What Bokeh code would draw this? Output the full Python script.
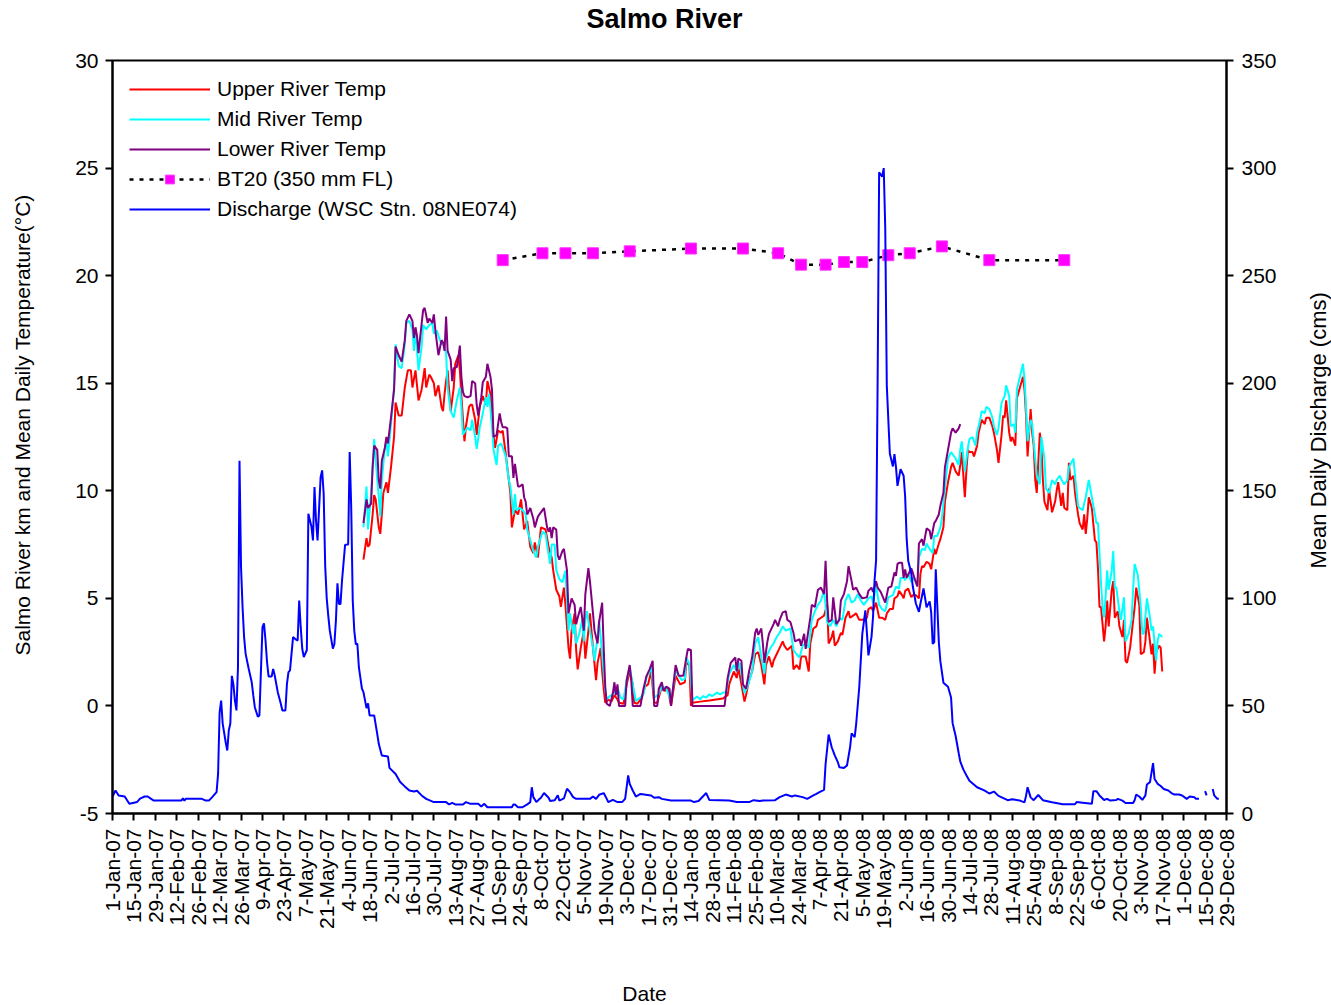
import math
import numpy as np
from bokeh.plotting import figure
from bokeh.layouts import row, column
from bokeh.models import Range1d, LinearAxis, FixedTicker, Legend, LegendItem, Label
from bokeh.embed import file_html
from bokeh.resources import INLINE

FONT = "Liberation Sans"

# x axis: days since 1-Jan-2007, labelled every 14 days
TICK_LABELS = [
    "1-Jan-07", "15-Jan-07", "29-Jan-07", "12-Feb-07", "26-Feb-07", "12-Mar-07",
    "26-Mar-07", "9-Apr-07", "23-Apr-07", "7-May-07", "21-May-07", "4-Jun-07",
    "18-Jun-07", "2-Jul-07", "16-Jul-07", "30-Jul-07", "13-Aug-07", "27-Aug-07",
    "10-Sep-07", "24-Sep-07", "8-Oct-07", "22-Oct-07", "5-Nov-07", "19-Nov-07",
    "3-Dec-07", "17-Dec-07", "31-Dec-07", "14-Jan-08", "28-Jan-08", "11-Feb-08",
    "25-Feb-08", "10-Mar-08", "24-Mar-08", "7-Apr-08", "21-Apr-08", "5-May-08",
    "19-May-08", "2-Jun-08", "16-Jun-08", "30-Jun-08", "14-Jul-08", "28-Jul-08",
    "11-Aug-08", "25-Aug-08", "8-Sep-08", "22-Sep-08", "6-Oct-08", "20-Oct-08",
    "3-Nov-08", "17-Nov-08", "1-Dec-08", "15-Dec-08", "29-Dec-08",
]
TICK_STEP_DAYS = 14

TITLE = "Salmo River"
LEFT_TITLE = "Salmo River km and Mean Daily Temperature(°C)"
RIGHT_TITLE = "Mean Daily Discharge (cms)"
X_TITLE = "Date"

# (day, mean daily temperature degC) - Upper River
UPPER_TEMP = [
    (164, 6.8), (166, 7.8), (167, 7.4), (168, 7.5), (170, 8.9), (171, 9.8), (172, 9.6), (174, 8.3),
    (175, 8.0), (176, 8.9), (177, 9.9), (179, 10.4), (180, 9.9), (182, 11.1), (184, 12.5), (185, 14.1),
    (187, 13.5), (189, 13.5), (191, 14.8), (193, 15.6), (195, 15.6), (196, 14.8), (198, 15.6), (200, 14.2),
    (202, 14.7), (204, 15.7), (205, 14.8), (207, 15.4), (208, 15.3), (210, 15.0), (211, 14.4), (213, 14.9),
    (215, 13.9), (216, 13.7), (217, 14.5), (218, 15.1), (219, 15.6), (221, 13.7), (223, 14.8), (224, 15.9),
    (226, 16.3), (227, 15.6), (228, 14.4), (230, 12.3), (231, 13.0), (233, 13.9), (234, 14.0), (235, 14.0),
    (237, 13.3), (238, 12.6), (240, 13.9), (242, 14.4), (244, 14.0), (245, 15.1), (247, 14.5), (248, 13.1),
    (250, 12.0), (252, 12.8), (254, 12.7), (255, 12.8), (257, 11.7), (259, 10.5), (260, 9.9), (261, 8.3),
    (263, 9.1), (265, 8.9), (267, 9.6), (269, 8.2), (271, 8.6), (273, 7.4), (275, 7.1), (276, 7.6),
    (278, 6.9), (280, 8.3), (283, 8.2), (285, 7.4), (287, 6.9), (288, 6.3), (290, 5.4), (292, 5.1),
    (293, 4.6), (295, 5.5), (296, 4.7), (298, 2.7), (299, 2.2), (300, 3.5), (302, 4.3), (303, 2.6),
    (304, 1.7), (306, 2.7), (308, 3.5), (309, 2.2), (311, 3.5), (312, 4.3), (314, 2.7), (316, 1.2),
    (317, 2.0), (319, 2.7), (320, 1.6), (321, 0.8), (322, 0.15), (324, 0.3), (326, 0.2), (328, 0.5),
    (330, 0.3), (331, 0.15), (334, 0.1), (336, 1.0), (338, 1.6), (340, 1.0), (341, 0.15), (343, 0.1),
    (346, 0.4), (348, 0.9), (350, 1.0), (352, 1.6), (354, 0.15), (356, 0.15), (359, 0.9), (361, 0.7),
    (363, 0.8), (365, 0.0), (368, 1.4), (371, 1.0), (374, 1.1), (375, 2.0), (377, 1.9), (378, 0.0),
    (379, 0.15), (384, 0.2), (390, 0.25), (399, 0.35), (402, 0.5), (403, 1.0), (406, 1.6), (408, 1.3),
    (409, 1.8), (411, 1.0), (413, 0.2), (414, 0.5), (416, 1.2), (418, 1.6), (420, 2.4), (422, 2.5),
    (424, 1.9), (426, 1.0), (427, 1.9), (429, 2.3), (431, 1.8), (432, 2.1), (434, 2.4), (436, 2.7),
    (438, 3.0), (439, 2.8), (441, 2.6), (444, 2.8), (445, 1.7), (447, 1.9), (449, 1.7), (450, 2.3),
    (452, 2.3), (453, 2.3), (455, 1.6), (456, 2.9), (458, 3.6), (460, 3.7), (461, 4.0), (463, 4.1),
    (465, 4.2), (467, 4.7), (468, 2.9), (470, 3.2), (471, 3.5), (472, 2.8), (474, 3.0), (476, 3.4),
    (477, 3.3), (479, 4.1), (481, 4.4), (482, 4.1), (484, 4.2), (486, 4.3), (488, 4.0), (490, 4.0),
    (493, 4.1), (494, 4.5), (496, 4.6), (497, 4.4), (499, 4.8), (501, 4.1), (503, 4.1), (505, 4.0),
    (506, 4.3), (508, 4.5), (510, 4.5), (511, 5.0), (513, 5.1), (514, 5.35), (516, 5.15), (517, 5.0),
    (518, 5.35), (520, 5.45), (522, 5.05), (523, 5.15), (525, 5.15), (527, 5.0), (528, 6.15), (529, 6.5),
    (530, 6.45), (532, 6.7), (534, 6.6), (535, 6.35), (537, 7.3), (538, 7.05), (540, 7.55), (541, 7.75),
    (543, 8.3), (544, 9.5), (546, 10.4), (548, 11.1), (549, 11.3), (551, 10.9), (553, 10.7), (554, 11.2),
    (555, 11.8), (557, 9.7), (558, 10.9), (559, 11.9), (560, 11.8), (562, 11.8), (563, 11.6), (565, 12.1),
    (566, 12.7), (568, 13.3), (570, 13.1), (571, 13.4), (573, 13.4), (575, 13.0), (576, 12.7), (578, 11.9),
    (579, 11.3), (581, 12.6), (582, 13.5), (583, 13.4), (584, 14.2), (586, 12.7), (587, 12.3), (588, 12.5),
    (590, 12.1), (591, 14.3), (593, 14.8), (595, 15.3), (596, 14.7), (597, 13.5), (598, 11.6), (600, 13.8),
    (601, 12.7), (602, 12.1), (603, 10.5), (604, 9.9), (606, 12.7), (607, 12.1), (608, 10.5), (609, 9.5),
    (611, 9.1), (612, 10.1), (614, 9.0), (616, 9.5), (617, 10.0), (618, 10.4), (620, 9.3), (621, 9.9),
    (622, 9.2), (624, 9.1), (625, 11.3), (626, 10.5), (628, 10.7), (629, 9.9), (631, 8.9), (632, 8.5),
    (634, 8.2), (635, 8.9), (636, 8.0), (637, 8.7), (638, 9.7), (640, 9.2), (642, 7.7), (643, 7.6),
    (644, 6.4), (645, 4.6), (646, 4.6), (648, 3.0), (649, 3.7), (650, 4.9), (651, 3.7), (653, 5.4),
    (654, 5.8), (655, 4.1), (657, 4.4), (658, 3.7), (660, 3.2), (661, 4.0), (662, 2.1), (663, 2.0),
    (665, 2.7), (666, 3.35), (668, 4.6), (669, 5.5), (671, 4.7), (672, 2.4), (674, 2.5), (675, 3.0),
    (676, 4.1), (678, 3.0), (679, 2.4), (680, 2.9), (681, 1.5), (682, 2.5), (684, 2.8), (685, 2.7),
    (686, 1.6),
]

# (day, mean daily temperature degC) - Mid River
MID_TEMP = [
    (164, 8.3), (166, 10.2), (167, 8.2), (169, 9.9), (171, 12.4), (172, 11.4), (174, 9.7), (175, 8.8),
    (176, 10.5), (178, 12.0), (179, 12.3), (180, 11.6), (182, 13.1), (184, 14.8), (185, 16.8), (187, 15.8),
    (189, 15.7), (191, 16.8), (192, 17.8), (194, 17.9), (196, 17.5), (197, 16.5), (198, 17.5), (199, 16.5),
    (200, 15.6), (202, 16.7), (203, 17.7), (205, 17.5), (207, 17.7), (209, 17.8), (210, 17.3), (212, 17.45),
    (213, 17.2), (215, 16.8), (216, 16.9), (218, 16.4), (219, 14.8), (221, 13.7), (223, 13.4), (225, 14.2),
    (227, 14.8), (228, 13.9), (229, 12.6), (232, 12.95), (234, 12.8), (235, 13.3), (237, 12.5), (238, 11.95),
    (240, 12.95), (242, 13.6), (244, 14.35), (245, 13.9), (246, 14.5), (248, 13.1), (249, 11.9), (251, 11.2),
    (252, 12.1), (254, 12.2), (255, 12.0), (257, 11.6), (259, 10.5), (260, 10.2), (262, 8.9), (263, 9.85),
    (264, 9.1), (266, 9.2), (268, 9.1), (270, 8.9), (271, 8.2), (273, 7.7), (275, 7.2), (277, 6.9),
    (278, 7.4), (281, 8.1), (283, 8.0), (284, 7.5), (286, 6.6), (287, 7.5), (289, 7.5), (290, 6.3),
    (292, 5.9), (294, 5.75), (296, 6.3), (298, 3.5), (299, 4.3), (301, 3.35), (302, 3.8), (303, 2.9),
    (305, 3.35), (307, 4.0), (308, 3.0), (309, 4.0), (310, 4.4), (312, 3.5), (314, 2.7), (315, 2.1),
    (317, 3.2), (318, 4.0), (320, 2.4), (322, 0.7), (323, 0.3), (325, 0.46), (327, 0.54), (330, 0.87),
    (332, 0.39), (334, 0.31), (336, 1.2), (338, 1.8), (340, 1.0), (342, 0.23), (345, 0.39), (347, 0.54),
    (349, 1.33), (352, 1.8), (354, 0.39), (357, 0.54), (359, 0.93), (362, 0.78), (365, 0.23), (368, 1.64),
    (372, 1.2), (374, 1.26), (375, 2.25), (377, 1.95), (379, 0.27), (382, 0.44), (384, 0.31), (386, 0.46),
    (388, 0.39), (390, 0.54), (392, 0.46), (395, 0.62), (397, 0.54), (399, 0.62), (401, 0.62), (403, 1.5),
    (406, 1.9), (408, 1.6), (410, 2.0), (412, 1.0), (413, 0.6), (415, 0.9), (418, 1.6), (420, 2.9),
    (422, 3.2), (424, 2.25), (426, 1.5), (427, 2.25), (430, 2.7), (432, 2.9), (434, 3.2), (436, 3.4),
    (438, 3.7), (440, 3.5), (443, 3.6), (445, 2.6), (447, 2.4), (449, 2.25), (451, 2.8), (453, 2.9),
    (455, 2.7), (457, 4.0), (459, 4.4), (461, 4.7), (463, 4.9), (465, 5.4), (467, 3.9), (469, 3.7),
    (471, 4.0), (473, 3.7), (475, 4.1), (477, 4.0), (479, 4.9), (481, 5.2), (483, 4.8), (485, 4.9),
    (487, 5.2), (489, 4.9), (491, 4.7), (494, 5.0), (496, 5.1), (497, 4.8), (499, 5.6), (501, 4.7),
    (503, 4.5), (505, 4.4), (507, 5.05), (510, 5.15), (512, 5.55), (514, 5.45), (515, 5.95), (517, 5.95),
    (518, 5.85), (520, 6.15), (522, 5.75), (524, 5.95), (526, 5.55), (527, 6.9), (529, 7.3), (531, 7.25),
    (532, 7.55), (534, 7.3), (536, 7.1), (537, 7.9), (539, 7.9), (541, 8.3), (542, 8.7), (544, 10.1),
    (546, 11.5), (548, 11.8), (549, 11.7), (551, 11.5), (553, 11.2), (554, 11.9), (555, 12.3), (557, 10.9),
    (559, 12.0), (560, 12.4), (562, 12.5), (564, 12.1), (565, 12.7), (567, 13.3), (568, 13.7), (570, 13.6),
    (571, 13.9), (573, 13.8), (575, 13.4), (576, 13.0), (578, 12.6), (579, 12.9), (581, 14.1), (583, 14.4),
    (584, 14.9), (586, 14.4), (587, 13.0), (589, 13.1), (590, 12.7), (591, 14.7), (593, 15.3), (595, 15.9),
    (596, 15.2), (597, 13.9), (598, 12.3), (600, 13.3), (601, 13.1), (602, 12.3), (604, 10.7), (606, 10.3),
    (607, 12.5), (609, 11.5), (610, 10.1), (612, 9.9), (614, 10.5), (616, 10.3), (617, 10.5), (619, 10.7),
    (621, 10.4), (622, 10.3), (624, 10.5), (625, 11.1), (628, 11.5), (629, 10.7), (631, 9.3), (632, 9.2),
    (634, 9.1), (636, 9.7), (638, 10.5), (640, 9.7), (642, 8.9), (643, 8.5), (644, 8.5), (645, 7.1),
    (646, 5.7), (647, 4.6), (648, 4.1), (649, 5.05), (650, 6.3), (651, 5.4), (653, 6.3), (654, 7.2),
    (655, 5.5), (656, 5.5), (658, 4.4), (659, 4.0), (661, 5.05), (662, 3.0), (664, 3.35), (666, 4.0),
    (667, 5.5), (668, 6.6), (670, 6.1), (672, 4.6), (673, 3.35), (674, 3.35), (676, 5.0), (678, 4.1),
    (679, 3.5), (680, 3.7), (682, 2.1), (683, 3.0), (684, 3.35), (686, 3.2),
]

# (day, mean daily temperature degC) - Lower River
LOWER_TEMP = [
    (164, 8.5), (166, 9.6), (167, 9.2), (169, 9.4), (170, 11.1), (171, 12.1), (173, 11.9), (174, 10.5),
    (175, 10.1), (176, 11.4), (178, 12.0), (179, 12.5), (180, 12.2), (182, 13.4), (184, 14.7), (185, 16.7),
    (187, 16.3), (189, 16.0), (191, 17.0), (192, 17.9), (194, 18.2), (196, 17.9), (197, 17.1), (198, 17.6),
    (199, 17.2), (200, 16.4), (201, 17.1), (203, 18.4), (204, 18.5), (206, 17.8), (207, 18.0), (209, 17.8),
    (210, 18.2), (211, 17.45), (213, 16.3), (215, 17.0), (216, 16.9), (217, 16.5), (218, 18.1), (219, 16.5),
    (221, 16.1), (222, 15.1), (223, 15.7), (225, 15.75), (226, 16.2), (227, 16.75), (228, 15.3), (229, 14.6),
    (230, 14.4), (232, 14.35), (234, 14.4), (235, 15.1), (237, 15.0), (238, 14.0), (239, 13.5), (241, 14.35),
    (242, 15.05), (244, 15.3), (245, 15.9), (247, 15.3), (248, 14.7), (249, 12.5), (251, 12.6), (253, 13.6),
    (254, 13.2), (255, 12.95), (257, 12.95), (258, 12.9), (259, 11.6), (261, 11.6), (262, 10.6), (263, 11.25),
    (265, 10.2), (266, 10.2), (268, 10.3), (269, 9.7), (270, 9.5), (271, 8.9), (273, 9.2), (275, 8.7),
    (276, 8.3), (278, 8.8), (279, 8.9), (281, 9.1), (282, 9.2), (284, 8.3), (285, 8.1), (286, 8.3),
    (287, 7.8), (288, 8.3), (290, 8.2), (291, 7.0), (292, 6.8), (294, 7.2), (295, 7.3), (297, 6.3),
    (298, 4.3), (300, 5.0), (302, 4.7), (303, 3.8), (304, 4.1), (306, 4.6), (308, 3.5), (309, 5.2),
    (311, 6.4), (312, 5.8), (314, 4.3), (315, 3.5), (317, 2.9), (318, 3.9), (320, 4.8), (321, 2.7),
    (322, 0.9), (323, 0.1), (325, 0.0), (327, 0.6), (328, 1.1), (329, 0.5), (330, 1.0), (331, 0.0),
    (335, 0.0), (336, 1.2), (338, 1.9), (339, 1.2), (340, 0.0), (345, 0.0), (347, 0.8), (349, 1.4),
    (351, 1.7), (353, 2.1), (354, 0.0), (356, 0.0), (357, 0.8), (359, 1.1), (360, 0.7), (362, 0.9),
    (364, 0.8), (365, 0.0), (368, 1.9), (370, 1.4), (373, 1.4), (375, 2.25), (376, 2.65), (378, 2.6),
    (379, 0.0), (400, 0.0), (402, 1.3), (404, 2.0), (407, 2.25), (408, 1.6), (409, 2.2), (411, 2.1),
    (412, 1.0), (414, 0.8), (416, 1.6), (418, 2.25), (420, 3.4), (421, 3.6), (422, 3.3), (424, 3.6),
    (425, 2.9), (426, 2.0), (428, 3.0), (429, 3.35), (432, 3.8), (433, 4.0), (435, 3.7), (436, 4.0),
    (438, 4.35), (440, 4.4), (441, 4.0), (443, 3.9), (445, 3.4), (446, 3.0), (449, 3.1), (450, 2.8),
    (452, 3.35), (453, 2.65), (456, 4.1), (457, 4.7), (459, 4.6), (461, 5.4), (463, 5.5), (465, 5.2),
    (466, 6.75), (467, 4.9), (468, 3.9), (470, 4.0), (471, 5.05), (473, 3.8), (475, 4.0), (476, 4.9),
    (478, 5.2), (480, 5.8), (481, 6.5), (483, 5.8), (484, 5.4), (486, 5.5), (488, 5.2), (490, 5.0),
    (493, 5.05), (494, 5.35), (496, 5.5), (497, 5.3), (499, 5.8), (500, 5.5), (502, 5.3), (505, 4.8),
    (507, 5.5), (509, 5.55), (511, 6.2), (512, 6.05), (513, 6.6), (514, 6.65), (516, 6.65), (517, 5.95),
    (518, 6.35), (519, 5.95), (522, 6.4), (523, 6.2), (524, 5.95), (526, 5.55), (527, 7.55), (529, 7.75),
    (530, 7.45), (532, 8.25), (534, 8.15), (535, 7.75), (537, 8.5), (538, 8.6), (540, 8.9), (541, 9.3),
    (543, 9.9), (544, 11.1), (546, 11.9), (548, 12.7), (549, 12.9), (551, 12.7), (553, 12.9), (554, 13.1),
]

# BT20 (350 mm FL) river km positions on the temperature axis
BT20_DAY = [255, 281, 296, 314, 338, 378, 412, 435, 450, 466, 478, 490, 507, 521, 542, 573, 622]
BT20_KM = [20.72, 21.04, 21.04, 21.04, 21.13, 21.26, 21.26, 21.04, 20.51, 20.51, 20.63, 20.63,
           20.95, 21.04, 21.36, 20.72, 20.72]

# (day, mean daily discharge cms) - WSC Stn. 08NE074; None = missing record
DISCHARGE = [
    (0, 7.9), (2, 10.7), (4, 8.4), (8, 7.9), (11, 4.5), (14, 5.0), (16, 5.3), (18, 6.9), (21, 7.9),
    (23, 7.9), (25, 6.9), (27, 6.0), (35, 6.0), (45, 6.0), (46, 7.0), (47, 6.0), (48, 6.9), (58, 6.9),
    (61, 6.0), (63, 6.0), (65, 7.5), (68, 9.9), (69, 18.4), (70, 47.0), (71, 52.5), (72, 41.8), (74, 33.0),
    (75, 29.3), (76, 38.6), (77, 41.8), (78, 64.0), (79, 60.0), (80, 52.5), (81, 47.9), (82, 68.0),
    (83, 164.0), (84, 114.5), (85, 95.9), (86, 82.0), (87, 74.2), (89, 67.3), (91, 61.0), (92, 54.9),
    (93, 49.4), (95, 45.0), (96, 45.6), (98, 86.6), (99, 88.4), (100, 80.4), (101, 70.3), (102, 63.7),
    (104, 63.7), (105, 67.2), (106, 64.2), (108, 56.4), (110, 51.0), (111, 47.9), (113, 47.9), (114, 60.3),
    (115, 65.7), (116, 66.5), (118, 82.0), (120, 80.8), (121, 80.4), (122, 99.0), (123, 86.6), (124, 76.6),
    (125, 72.7), (127, 76.0), (128, 139.3), (130, 133.4), (131, 126.9), (132, 151.7), (133, 136.2),
    (134, 126.9), (136, 156.3), (137, 159.5), (138, 148.6), (139, 115.0), (140, 100.0), (141, 92.0),
    (142, 85.0), (144, 76.6), (145, 78.8), (146, 89.7), (147, 107.0), (148, 97.4), (149, 97.4),
    (150, 108.3), (152, 124.9), (154, 125.0), (155, 168.0), (156, 142.4), (157, 99.0), (158, 85.0),
    (159, 78.6), (160, 79.0), (161, 68.0), (163, 58.0), (164, 56.4), (166, 49.0), (167, 51.2), (168, 45.6),
    (171, 45.6), (173, 37.0), (174, 32.4), (176, 27.0), (180, 26.5), (181, 21.2), (185, 18.4), (188, 14.6),
    (191, 12.6), (194, 10.7), (197, 10.2), (199, 10.6), (202, 8.4), (205, 6.8), (210, 5.3), (218, 5.3),
    (220, 4.2), (222, 4.9), (224, 4.2), (229, 4.2), (231, 5.3), (234, 4.5), (239, 4.5), (241, 3.3),
    (243, 4.5), (245, 2.9), (261, 2.9), (262, 4.2), (263, 4.2), (265, 2.9), (268, 2.9), (271, 4.2),
    (273, 5.3), (274, 12.2), (275, 7.6), (277, 5.3), (279, 6.7), (280, 7.3), (282, 9.5), (285, 7.3),
    (286, 5.8), (289, 6.2), (291, 8.5), (292, 6.0), (295, 7.0), (297, 11.5), (299, 9.9), (301, 7.6),
    (303, 6.8), (312, 6.8), (314, 7.9), (316, 6.8), (318, 8.7), (321, 9.5), (323, 6.8), (324, 5.3),
    (327, 6.3), (330, 5.3), (333, 5.3), (335, 6.8), (337, 17.7), (338, 13.8), (340, 10.7), (342, 7.9),
    (345, 9.1), (352, 8.4), (354, 7.3), (357, 7.6), (359, 6.8), (365, 6.0), (378, 6.0), (380, 5.3),
    (383, 5.8), (385, 7.3), (388, 9.5), (390, 6.3), (403, 6.0), (408, 5.3), (416, 5.3), (419, 6.2),
    (423, 5.8), (425, 6.0), (433, 6.2), (436, 7.6), (440, 8.8), (444, 7.9), (446, 8.4), (451, 7.6),
    (454, 6.8), (458, 8.4), (460, 9.1), (462, 9.9), (465, 11.0), (466, 23.0), (468, 36.7), (470, 30.8),
    (472, 27.0), (474, 23.9), (475, 21.5), (478, 21.2), (480, 22.3), (482, 30.8), (483, 37.3), (485, 35.5),
    (486, 41.7), (488, 58.7), (490, 83.5), (492, 94.4), (494, 73.5), (496, 82.0), (497, 91.3), (498, 108.3),
    (499, 117.6), (500, 200.0), (501, 298.0), (503, 296.0), (504, 300.0), (505, 272.0), (506, 199.0),
    (508, 167.2), (510, 161.3), (511, 167.0), (512, 161.0), (513, 152.3), (515, 160.0), (517, 157.0),
    (518, 147.3), (519, 127.5), (520, 117.5), (522, 111.6), (523, 105.5), (525, 97.6), (527, 93.7),
    (528, 97.6), (530, 104.6), (532, 95.8), (534, 98.6), (535, 93.7), (536, 78.8), (537, 79.7),
    (538, 113.5), (540, 79.7), (541, 70.8), (543, 60.8), (546, 58.9), (548, 53.9), (549, 42.0), (551, 36.0),
    (553, 28.0), (554, 24.2), (556, 20.5), (558, 17.8), (560, 15.2), (565, 12.2), (570, 10.6), (573, 9.3),
    (576, 10.2), (579, 8.2), (585, 6.2), (588, 6.6), (593, 6.0), (596, 5.2), (597, 8.2), (598, 12.2),
    (600, 7.5), (602, 6.2), (605, 8.6), (608, 6.2), (614, 5.2), (621, 4.3), (629, 4.3), (630, 5.3),
    (634, 5.0), (640, 4.5), (641, 10.4), (643, 10.4), (645, 8.4), (648, 6.3), (650, 6.8), (652, 6.0),
    (656, 6.3), (657, 6.8), (660, 6.0), (662, 4.9), (667, 4.9), (668, 6.3), (669, 8.8), (671, 7.9),
    (673, 6.3), (675, 8.4), (676, 13.5), (678, 14.6), (680, 23.4), (681, 16.0), (683, 13.8), (685, 12.8),
    (687, 11.4), (690, 10.7), (692, 9.5), (694, 8.8), (697, 8.8), (699, 8.4), (702, 6.8), (704, 7.9),
    (707, 7.6), (708, 6.8), (710, 6.8), (712, None), (714, 10.4), (715, 8.4), (717, None), (719, 11.4),
    (720, 8.4), (722, 6.8), (723, 6.8),
]


def unzip(pairs):
    arr = np.array([(d, np.nan if v is None else v) for d, v in pairs], dtype=float)
    return arr[:, 0], arr[:, 1]


W, H = 1331, 1005
TOP_H, BOTTOM_H, LEFT_W, RIGHT_W = 40, 30, 40, 36
MAIN_W = W - LEFT_W - RIGHT_W
MAIN_H = H - TOP_H - BOTTOM_H
FRAME_LEFT, FRAME_RIGHT, FRAME_TOP, FRAME_BOTTOM = 112, 1226, 60, 813


def text_strip(width, height, text, x, y, y_range, angle=0.0, size="21px", style="normal",
               align="center"):
    """A bare figure that only carries one piece of text (axis titles, chart title)."""
    s = figure(width=width, height=height, output_backend="svg", toolbar_location=None,
               x_range=Range1d(0, width), y_range=y_range,
               x_axis_type=None, y_axis_type=None,
               min_border=0, min_border_left=0, min_border_right=0,
               min_border_top=0, min_border_bottom=0)
    s.outline_line_color = None
    s.grid.visible = False
    s.background_fill_color = "white"
    s.border_fill_color = "white"
    s.add_layout(Label(x=x, y=y, text=text, angle=angle, text_font=FONT, text_font_size=size,
                       text_font_style=style, text_color="black",
                       text_align=align, text_baseline="middle"))
    return s


p = figure(
    width=MAIN_W, height=MAIN_H,
    output_backend="svg", toolbar_location=None,
    x_range=Range1d(0, 728), y_range=Range1d(-5, 30),
    min_border_left=FRAME_LEFT - LEFT_W, min_border_right=LEFT_W + MAIN_W - FRAME_RIGHT,
    min_border_top=FRAME_TOP - TOP_H, min_border_bottom=TOP_H + MAIN_H - FRAME_BOTTOM,
)
p.background_fill_color = "white"
p.border_fill_color = "white"
p.xgrid.visible = False
p.ygrid.visible = False
p.outline_line_color = "black"
p.outline_line_width = 2

# temperature axis (left)
ya = p.yaxis[0]
ya.ticker = FixedTicker(ticks=list(range(-5, 31, 5)))
ya.major_label_overrides = {-5: "-5"}

# discharge axis (right)
p.extra_y_ranges = {"q": Range1d(0, 350)}
ya_r = LinearAxis(y_range_name="q", ticker=FixedTicker(ticks=list(range(0, 351, 50))))
p.add_layout(ya_r, "right")

xa = p.xaxis[0]
tick_days = [i * TICK_STEP_DAYS for i in range(len(TICK_LABELS))]
xa.ticker = FixedTicker(ticks=tick_days)
xa.major_label_overrides = {d: lbl for d, lbl in zip(tick_days, TICK_LABELS)}
xa.major_label_orientation = math.pi / 2

for ax in (xa, ya, ya_r):
    ax.axis_line_color = "black"
    ax.axis_line_width = 2
    ax.major_tick_line_color = "black"
    ax.major_tick_line_width = 2
    ax.major_tick_out = 7
    ax.major_tick_in = 0
    ax.minor_tick_out = 0
    ax.minor_tick_in = 0
    ax.major_label_text_font = FONT
    ax.major_label_text_font_size = "21px"
    ax.major_label_text_color = "black"

xa.major_label_standoff = 8
ya.major_label_standoff = 7
ya_r.major_label_standoff = 8

ud, uv = unzip(UPPER_TEMP)
md, mv = unzip(MID_TEMP)
ld, lv = unzip(LOWER_TEMP)
qd, qv = unzip(DISCHARGE)

r_up = p.line(ud, uv, line_color="#FF0000", line_width=2)
r_mid = p.line(md, mv, line_color="#00FFFF", line_width=2)
r_low = p.line(ld, lv, line_color="#800080", line_width=2)
r_bt_line = p.line(BT20_DAY, BT20_KM, line_color="black", line_width=2.5, line_dash="4 6")
r_bt_pts = p.scatter(BT20_DAY, BT20_KM, marker="square", size=11,
                     fill_color="#FF00FF", line_color="#FF33FF", line_width=1)
r_q = p.line(qd, qv, line_color="#0000FF", line_width=2, y_range_name="q")

legend = Legend(items=[
    LegendItem(label="Upper River Temp", renderers=[r_up]),
    LegendItem(label="Mid River Temp", renderers=[r_mid]),
    LegendItem(label="Lower River Temp", renderers=[r_low]),
    LegendItem(label="BT20 (350 mm FL)", renderers=[r_bt_line, r_bt_pts]),
    LegendItem(label="Discharge (WSC Stn. 08NE074)", renderers=[r_q]),
])
legend.location = "top_left"
legend.margin = 14
legend.padding = 3
legend.spacing = 6
legend.glyph_width = 81
legend.glyph_height = 22
legend.label_height = 22
legend.label_standoff = 7
legend.label_text_font = FONT
legend.label_text_font_size = "21px"
legend.label_text_color = "black"
legend.border_line_alpha = 0
legend.background_fill_alpha = 0
p.add_layout(legend)

# Title and axis titles around the main plot. The row lines up the side strips'
# frames with the main frame, so their y range is given in page pixels (top = 60,
# bottom = 813); rotated titles are anchored at the lower end where the text starts.
side_range = lambda: Range1d(FRAME_BOTTOM, FRAME_TOP)
top = text_strip(W, TOP_H, TITLE, x=664, y=TOP_H - 18, y_range=Range1d(0, TOP_H),
                 size="27px", style="bold")
left = text_strip(LEFT_W, MAIN_H, LEFT_TITLE, x=22, y=655, y_range=side_range(),
                  angle=math.pi / 2, align="left")
right = text_strip(RIGHT_W, MAIN_H, RIGHT_TITLE, x=1318 - LEFT_W - MAIN_W, y=568,
                   y_range=side_range(), angle=math.pi / 2, size="22px", align="left")
bottom = text_strip(W, BOTTOM_H, X_TITLE, x=644, y=H - 993, y_range=Range1d(0, BOTTOM_H))

layout = column(top, row(left, p, right, spacing=0), bottom, spacing=0)

open("out.html", "w").write(file_html(layout, INLINE))
